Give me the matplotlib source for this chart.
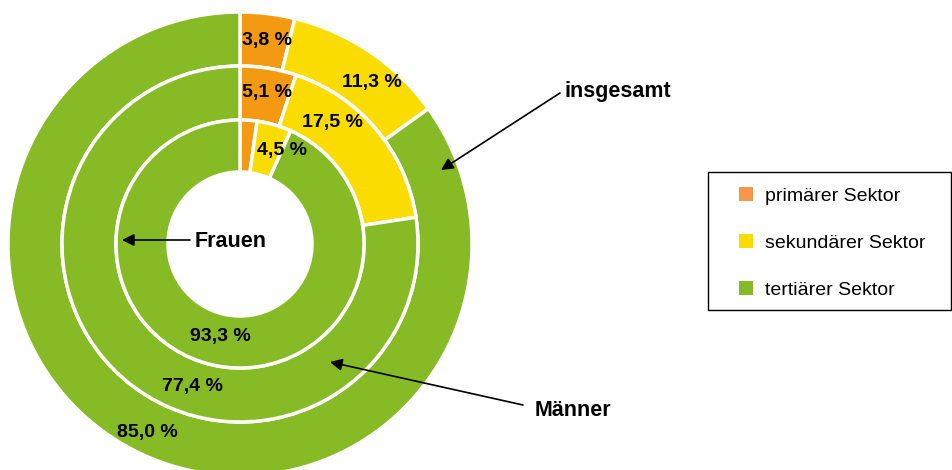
import matplotlib
matplotlib.use("Agg")
import matplotlib.pyplot as plt
from matplotlib.patches import Patch, Rectangle

plt.rcParams['font.family'] = ['Liberation Sans', 'DejaVu Sans']

# Data
sectors = ["primärer Sektor", "sekundärer Sektor", "tertiärer Sektor"]
insgesamt = [3.8, 11.3, 85.0]
maenner = [5.1, 17.5, 77.4]
frauen = [2.2, 4.5, 93.3]
labels_insgesamt = ["3,8 %", "11,3 %", "85,0 %"]
labels_maenner = ["5,1 %", "17,5 %", "77,4 %"]
labels_frauen = ["", "4,5 %", "93,3 %"]

colors = ["#F39A12", "#FBDC00", "#86BB25"]
legend_colors = ["#F7964A", "#FBDC00", "#86BB25"]

W, H = 953, 470
fig = plt.figure(figsize=(W / 100, H / 100), dpi=100)
ax = fig.add_axes([0, 0, 1, 1])
ax.set_xlim(0, W)
ax.set_ylim(0, H)
ax.set_aspect('equal')
ax.axis('off')

def Y(py):
    return H - py

cx, cy = 240, Y(244)
radii = [232, 178, 124]
widths = [54, 54, 52]
for vals, r, w in zip([insgesamt, maenner, frauen], radii, widths):
    ax.pie(vals, colors=colors, radius=r, center=(cx, cy), startangle=90,
           counterclock=False, normalize=True,
           wedgeprops=dict(width=w, edgecolor='white', linewidth=2.5))
ax.set_xlim(0, W)
ax.set_ylim(0, H)

# Value labels
label_pos = {
    labels_insgesamt[0]: (267, 40), labels_insgesamt[1]: (372, 83), labels_insgesamt[2]: (147, 432),
    labels_maenner[0]: (267, 93), labels_maenner[1]: (332, 122), labels_maenner[2]: (192, 387),
    labels_frauen[1]: (282, 150), labels_frauen[2]: (220, 336),
}
for txt, (px, py) in label_pos.items():
    ax.text(px, Y(py), txt, ha='center', va='center', fontsize=14, fontweight='bold', color='black')

# Annotations
arrowprops = dict(arrowstyle='-|>', color='black', lw=1.2, mutation_scale=18, shrinkA=0, shrinkB=0)
ax.annotate("", xy=(441, Y(170)), xytext=(560, Y(93)), arrowprops=arrowprops)
ax.text(565, Y(92), "insgesamt", ha='left', va='center', fontsize=15.5, fontweight='bold')
ax.annotate("", xy=(330, Y(362)), xytext=(523, Y(405)), arrowprops=arrowprops)
ax.text(535, Y(410), "Männer", ha='left', va='center', fontsize=15.5, fontweight='bold')
ax.annotate("", xy=(122, Y(240)), xytext=(190, Y(240)), arrowprops=arrowprops)
ax.text(195, Y(242), "Frauen", ha='left', va='center', fontsize=15.5, fontweight='bold')

# Legend frame
ax.add_patch(Rectangle((708, Y(310)), 243, 138, facecolor='white', edgecolor='black',
                       linewidth=1.0, zorder=5))
# Legend
handles = [Patch(facecolor=c, edgecolor='none') for c in legend_colors]
leg = ax.legend(handles, sectors, loc='upper left', bbox_to_anchor=(722 / W, 1 - 170 / H),
                bbox_transform=fig.transFigure, fontsize=14, frameon=False,
                handlelength=0.7, handleheight=0.7, handletextpad=0.62, labelspacing=1.5,
                borderpad=0.9, borderaxespad=0)
leg.set_zorder(6)

fig.savefig("out.png", dpi=100)
